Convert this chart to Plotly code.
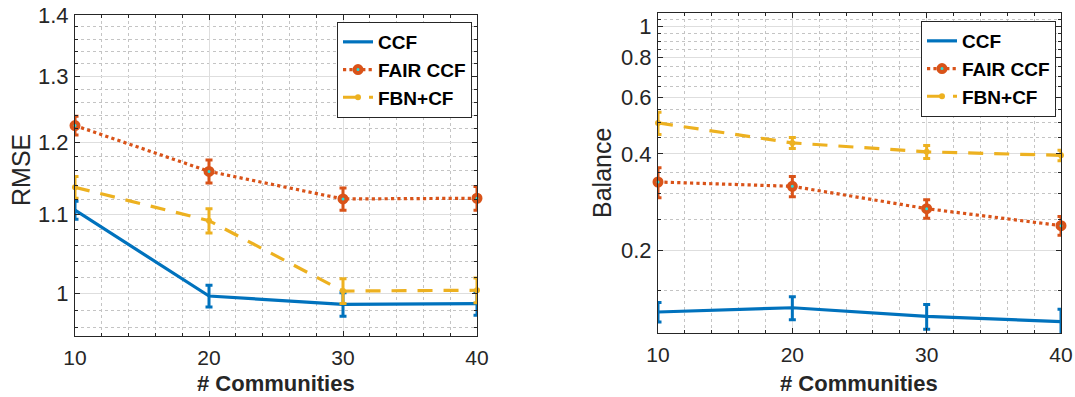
import numpy as np
import plotly.graph_objects as go

# ---------------- data ----------------
communities = [10, 20, 30, 40]
series_names = ["CCF", "FAIR CCF", "FBN+CF"]

rmse_ccf = [1.106, 0.997, 0.987, 0.988]
rmse_ccf_err = [0.012, 0.013, 0.014, 0.014]
rmse_fair = [1.225, 1.159, 1.121, 1.122]
rmse_fair_err = [0.014, 0.016, 0.015, 0.016]
rmse_fbn = [1.137, 1.092, 1.003, 1.004]
rmse_fbn_err = [0.015, 0.016, 0.015, 0.015]

bal_ccf = [0.1285, 0.1325, 0.1245, 0.120]
bal_ccf_err = [0.009, 0.011, 0.011, 0.011]
bal_fair = [0.327, 0.317, 0.270, 0.239]
bal_fair_err = [0.035, 0.023, 0.018, 0.016]
bal_fbn = [0.500, 0.433, 0.406, 0.396]
bal_fbn_err = [0.040, 0.017, 0.019, 0.015]

x_ticks = [10, 20, 30, 40]
rmse_ticks = [1.0, 1.1, 1.2, 1.3, 1.4]
rmse_ticktext = ["1", "1.1", "1.2", "1.3", "1.4"]
bal_ticks = [0.2, 0.4, 0.6, 0.8, 1.0]
bal_ticktext = ["0.2", "0.4", "0.6", "0.8", "1"]

# ---------------- style ----------------
W, H = 1075, 397
BLUE, ORANGE, YELLOW = "#0072BD", "#D95319", "#EDB120"
TXT = "#262626"
FONT = "Liberation Sans, Arial, Helvetica, sans-serif"


def px_x(p):
    return p / W


def px_y(p):
    return 1 - p / H


styles = {
    "CCF": dict(color=BLUE, dash="solid", mode="lines", marker=dict(size=1)),
    "FAIR CCF": dict(color=ORANGE, dash="dot", mode="lines+markers",
                     marker=dict(symbol="circle", size=7, color="#22e0e0",
                                 line=dict(color=ORANGE, width=4))),
    "FBN+CF": dict(color=YELLOW, dash="15px,11px", mode="lines+markers",
                   marker=dict(symbol="circle", size=6, color=YELLOW)),
}

fig = go.Figure()

panels = [
    ("x", "y", "legend", [(rmse_ccf, rmse_ccf_err), (rmse_fair, rmse_fair_err), (rmse_fbn, rmse_fbn_err)]),
    ("x2", "y2", "legend2", [(bal_ccf, bal_ccf_err), (bal_fair, bal_fair_err), (bal_fbn, bal_fbn_err)]),
]

for xa, ya, lg, data in panels:
    for name, (vals, errs) in zip(series_names, data):
        st = styles[name]
        fig.add_trace(go.Scatter(
            x=communities, y=vals, name=name, mode=st["mode"],
            xaxis=xa, yaxis=ya, legend=lg, cliponaxis=False,
            line=dict(color=st["color"], width=3.2, dash=st["dash"]),
            marker=st["marker"],
            error_y=dict(type="data", array=errs, visible=True,
                         color=st["color"], thickness=3, width=3.5),
        ))

grid_major = "#dedede"
grid_minor = "#c4c4c4"

x_common = dict(
    type="linear", range=[10, 40], tickvals=x_ticks,
    ticks="inside", ticklen=5, tickcolor=TXT, mirror="allticks",
    showline=True, linecolor=TXT, linewidth=1,
    showgrid=True, gridcolor=grid_major, gridwidth=1,
    minor=dict(tickvals=[v for v in np.arange(10, 41, 2) if v % 10 != 0],
               showgrid=True, gridcolor=grid_minor, griddash="dot",
               ticks="inside", ticklen=3, tickcolor=TXT),
    tickfont=dict(size=21, color=TXT, family=FONT),
    automargin=False, zeroline=False, ticklabelstandoff=3,
)

y_common = dict(
    type="log", ticks="inside", ticklen=5, tickcolor=TXT, mirror="allticks",
    showline=True, linecolor=TXT, linewidth=1,
    showgrid=True, gridcolor=grid_major, gridwidth=1,
    tickfont=dict(size=22, color=TXT, family=FONT),
    automargin=False, zeroline=False, ticklabelstandoff=1,
)

rmse_minor = [round(v, 2) for v in np.arange(0.96, 1.39, 0.02)
              if round(v, 2) not in rmse_ticks]
bal_minor = [round(v, 2) for v in np.arange(0.15, 1.06, 0.05)
             if round(v, 2) not in bal_ticks]

legend_style = dict(
    xanchor="left", yanchor="top",
    bgcolor="white", bordercolor=TXT, borderwidth=1,
    font=dict(size=19, family=FONT, color="black", weight="bold"),
    itemwidth=30, tracegroupgap=0,
)

fig.update_layout(
    width=W, height=H,
    margin=dict(l=0, r=0, t=0, b=0),
    paper_bgcolor="white", plot_bgcolor="white",
    font=dict(family=FONT, color=TXT),
    xaxis=dict(x_common, domain=[px_x(75), px_x(477)], anchor="y"),
    yaxis=dict(y_common, domain=[px_y(336), px_y(15)], anchor="x",
               range=[np.log10(0.9500), np.log10(1.4)],
               tickvals=rmse_ticks, ticktext=rmse_ticktext,
               minor=dict(tickvals=rmse_minor, showgrid=True, gridcolor=grid_minor,
                          griddash="dot", ticks="inside", ticklen=3, tickcolor=TXT)),
    xaxis2=dict(x_common, domain=[px_x(658), px_x(1061)], anchor="y2"),
    yaxis2=dict(y_common, domain=[px_y(333), px_y(13)], anchor="x2",
                range=[-0.9566, 0.0418],
                tickvals=bal_ticks, ticktext=bal_ticktext,
                minor=dict(tickvals=bal_minor, showgrid=True, gridcolor=grid_minor,
                           griddash="dot", ticks="inside", ticklen=3, tickcolor=TXT)),
    legend=dict(legend_style, x=px_x(337), y=px_y(22)),
    legend2=dict(legend_style, x=px_x(921), y=px_y(21)),
    showlegend=True,
)

annots = [
    dict(text="RMSE", x=px_x(21), y=px_y(170), yanchor="middle", textangle=-90, size=25, bold=False),
    dict(text="Balance", x=px_x(602), y=px_y(173), yanchor="middle", textangle=-90, size=25, bold=False),
    dict(text="# Communities", x=px_x(276), y=0, yanchor="bottom", textangle=0, size=22, bold=True),
    dict(text="# Communities", x=px_x(859.5), y=0, yanchor="bottom", textangle=0, size=22, bold=True),
]
for a in annots:
    fig.add_annotation(
        text=a["text"], x=a["x"], y=a["y"], xref="paper", yref="paper",
        xanchor="center", yanchor=a["yanchor"], showarrow=False, textangle=a["textangle"],
        borderpad=0,
        font=dict(size=a["size"], family=FONT, color=TXT,
                  weight="bold" if a["bold"] else "normal"),
    )

fig.write_html(
    "out.html",
    config={"displayModeBar": False},
    post_script="document.body.style.margin='0';document.body.style.overflow='hidden';",
)
